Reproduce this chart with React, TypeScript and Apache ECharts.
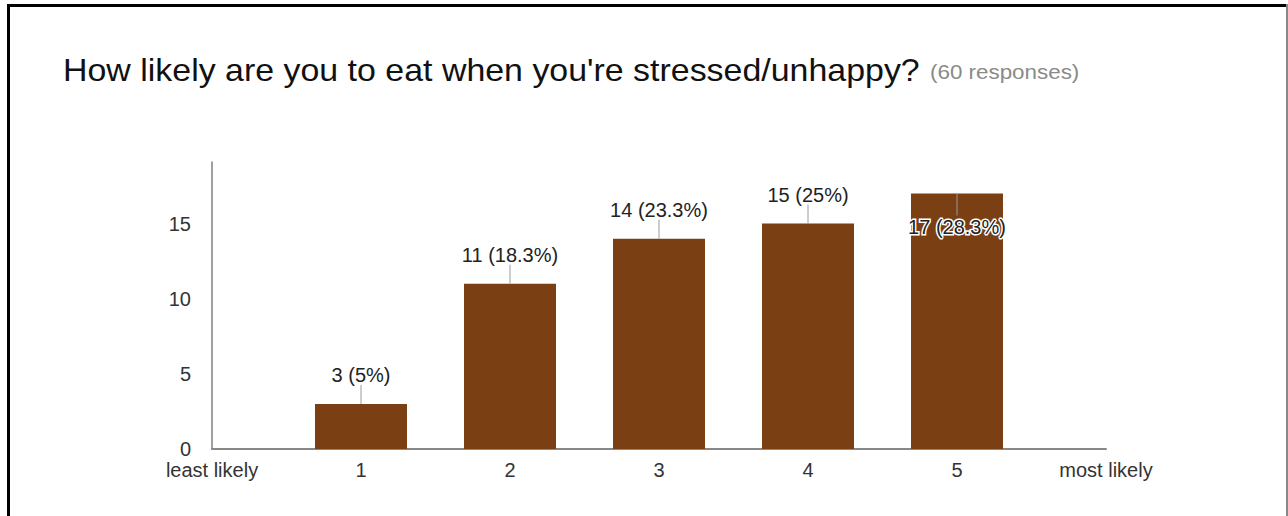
import React, { useEffect, useRef } from 'react';
import * as echarts from 'echarts';

const TITLE = "How likely are you to eat when you're stressed/unhappy?";
const RESPONSES = 60;
const SUBTITLE = `(${RESPONSES} responses)`;
const categories = ['least likely', '1', '2', '3', '4', '5', 'most likely'];
const ratedCategories = ['1', '2', '3', '4', '5'];
const counts = [3, 11, 14, 15, 17];
const yTickValues = [0, 5, 10, 15];
const Y_MAX = 19.1;

const FONT = "'Liberation Sans', Arial, Helvetica, sans-serif";
const BAR_COLOR = '#7a3f12';

export default function App() {
  const ref = useRef<HTMLDivElement>(null);
  useEffect(() => {
    const chart = echarts.init(ref.current as HTMLDivElement, null, { renderer: 'svg' });
    const data = ratedCategories.map((c, i) => [c, counts[i]]);
    chart.setOption({
      animation: false,
      backgroundColor: '#ffffff',
      grid: { left: 212, right: 182, top: 162, bottom: 67, containLabel: false },
      xAxis: {
        type: 'category',
        data: categories,
        boundaryGap: false,
        axisLine: { show: true, lineStyle: { color: '#888888', width: 2 } },
        axisTick: { show: false },
        splitLine: { show: false },
        axisLabel: { interval: 0, margin: 13, fontSize: 20, lineHeight: 16, color: '#333333', fontFamily: FONT },
      },
      yAxis: {
        type: 'value',
        min: 0,
        max: Y_MAX,
        interval: 5,
        axisLine: { show: true, lineStyle: { color: '#888888', width: 1.6 } },
        axisTick: { show: false },
        splitLine: { show: false },
        axisLabel: {
          margin: 21,
          fontSize: 20,
          lineHeight: 16,
          padding: [0, 0, 4, 0],
          color: '#333333',
          fontFamily: FONT,
          formatter: (v: number) => (yTickValues.includes(v) ? String(v) : ''),
        },
      },
      series: [
        {
          type: 'bar',
          data,
          barWidth: 92,
          itemStyle: { color: BAR_COLOR },
          z: 2,
        },
        {
          type: 'custom',
          data,
          z: 5,
          clip: false,
          renderItem: (params: any, api: any) => {
            const idx = api.value(0);
            const val = api.value(1);
            const pt = api.coord([idx, val]);
            const x = pt[0];
            const yTop = pt[1];
            const plotTop = api.coord([idx, Y_MAX])[1];
            const label = `${val} (${+((val / RESPONSES) * 100).toFixed(1)}%)`;
            const outside = yTop - 40 >= plotTop;
            const lineEnd = outside ? yTop - 19 : yTop + 22;
            const textY = outside ? yTop - 29 : yTop + 33;
            return {
              type: 'group',
              children: [
                {
                  type: 'line',
                  shape: { x1: x, y1: yTop, x2: x, y2: lineEnd },
                  style: { stroke: '#9a9a9a', lineWidth: 1 },
                },
                {
                  type: 'text',
                  x,
                  y: textY,
                  style: {
                    text: label,
                    font: `20px ${FONT}`,
                    fill: '#222222',
                    align: 'center',
                    verticalAlign: 'middle',
                    stroke: outside ? undefined : '#ffffff',
                    lineWidth: outside ? 0 : 3,
                  },
                },
              ],
            };
          },
        },
      ],
      graphic: [
        {
          type: 'text',
          x: 63,
          y: 70,
          scaleX: 1.06,
          style: { text: TITLE, font: `32px ${FONT}`, fill: '#111111', verticalAlign: 'middle' },
        },
        {
          type: 'text',
          x: 930,
          y: 71.5,
          scaleX: 1.12,
          style: { text: SUBTITLE, font: `20px ${FONT}`, fill: '#8a8a8a', verticalAlign: 'middle' },
        },
        { type: 'line', shape: { x1: 7, y1: 5.5, x2: 1286, y2: 5.5 }, style: { stroke: '#000000', lineWidth: 3 } },
        { type: 'line', shape: { x1: 8.5, y1: 4, x2: 8.5, y2: 516 }, style: { stroke: '#000000', lineWidth: 3 } },
        { type: 'line', shape: { x1: 1287, y1: 4, x2: 1287, y2: 516 }, style: { stroke: '#888888', lineWidth: 2 } },
      ],
    });
    return () => chart.dispose();
  }, []);
  return <div ref={ref} style={{ position: 'fixed', left: 0, top: 0, width: 1288, height: 516 }} />;
}
